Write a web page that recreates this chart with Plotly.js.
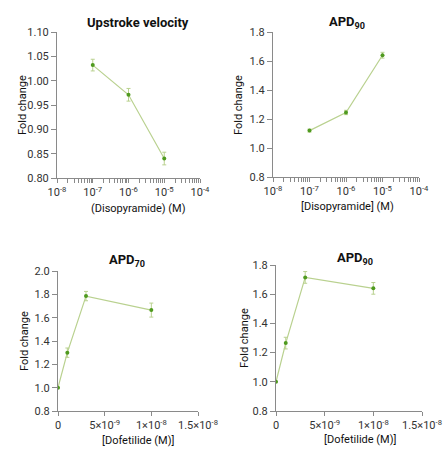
<!DOCTYPE html>
<html><head><meta charset="utf-8">
<script src="https://cdn.plot.ly/plotly-3.0.1.min.js"></script>
<style>html,body{margin:0;padding:0;background:#fff}#c{width:445px;height:457px}</style>
</head><body><div id="c"></div>
<script>
// Disopyramide data
const diso_conc = [1e-7, 1e-6, 1e-5];
const upstroke = [1.032, 0.971, 0.840];
const upstroke_err = [0.012, 0.013, 0.013];
const diso_apd90 = [1.12, 1.245, 1.64];
const diso_apd90_err = [0.01, 0.015, 0.02];
// Dofetilide data
const dofe_conc = [0, 1e-9, 3e-9, 1e-8];
const dofe_apd70 = [1.0, 1.30, 1.785, 1.665];
const dofe_apd70_err = [0.0, 0.04, 0.04, 0.06];
const dofe_apd90 = [1.0, 1.265, 1.715, 1.64];
const dofe_apd90_err = [0.0, 0.04, 0.04, 0.04];
// tick labels
const logTickVals = [1e-8, 1e-7, 1e-6, 1e-5, 1e-4];
const logTickText = ['10<sup>-8</sup>','10<sup>-7</sup>','10<sup>-6</sup>','10<sup>-5</sup>','10<sup>-4</sup>'];
const linTickVals = [0, 5e-9, 1e-8, 1.5e-8];
const linTickText = ['0','5×10<sup>-9</sup>','1×10<sup>-8</sup>','1.5×10<sup>-8</sup>'];
// unlabeled minor tick positions on the log axes (2..9 within each decade)
const logMinorVals = [];
for (let e = -8; e < -4; e++) for (let m = 2; m <= 9; m++) logMinorVals.push(m * Math.pow(10, e));

const FONT = 'Roboto, sans-serif';
const lineC = '#b9d18f', markC = '#4f9a1f', axC = '#8a8a8a', txtC = '#333';

function tr(x, y, e, xa, ya) {
  return {x: x, y: y, xaxis: xa, yaxis: ya, type: 'scatter', mode: 'lines+markers',
    line: {color: lineC, width: 1.2}, marker: {color: markC, size: 4},
    error_y: {type: 'data', array: e, visible: true, color: lineC, thickness: 1, width: 2},
    showlegend: false, hoverinfo: 'skip'};
}
const data = [
  tr(diso_conc, upstroke, upstroke_err, 'x', 'y'),
  tr(diso_conc, diso_apd90, diso_apd90_err, 'x2', 'y2'),
  tr(dofe_conc, dofe_apd70, dofe_apd70_err, 'x3', 'y3'),
  tr(dofe_conc, dofe_apd90, dofe_apd90_err, 'x4', 'y4')
];
function xax(dom, anchor, log) {
  const a = {domain: dom, anchor: anchor, showline: true, linecolor: axC, linewidth: 1,
    ticks: 'outside', ticklen: 4, tickcolor: axC, showgrid: false, zeroline: false,
    tickfont: {family: FONT, size: 11, color: txtC}, fixedrange: true};
  if (log) {
    a.type = 'log'; a.range = [-8, -4]; a.tickmode = 'array';
    a.tickvals = logTickVals.concat(logMinorVals);
    a.ticktext = logTickText.concat(logMinorVals.map(() => ''));
  } else {
    a.range = [0, 1.5e-8]; a.tickmode = 'array';
    a.tickvals = linTickVals; a.ticktext = linTickText;
  }
  return a;
}
function yax(dom, anchor, rng, dt, fmt) {
  return {domain: dom, anchor: anchor, range: rng, dtick: dt, tick0: 0.8, tickformat: fmt,
    showline: true, linecolor: axC, linewidth: 1, ticks: 'outside', ticklen: 5, tickcolor: axC,
    showgrid: false, zeroline: false, tickfont: {family: FONT, size: 11, color: txtC}, fixedrange: true};
}
function ann(text, x, y, size, bold, angle) {
  return {text: bold ? '<b>' + text + '</b>' : text, x: x, y: y, xref: 'paper', yref: 'paper',
    showarrow: false, xanchor: 'center', yanchor: 'middle', textangle: angle || 0,
    font: {family: FONT, size: size, color: '#111'}};
}
const H = 457, W = 445;
const px = v => v / W, py = v => 1 - v / H;
const layout = {
  width: W, height: H, margin: {l: 0, r: 0, t: 0, b: 0},
  paper_bgcolor: '#fff', plot_bgcolor: '#fff', showlegend: false,
  xaxis: xax([px(57), px(200)], 'y', true),
  yaxis: yax([py(178), py(32)], 'x', [0.8, 1.1], 0.05, '.2f'),
  xaxis2: xax([px(273), px(419)], 'y2', true),
  yaxis2: yax([py(177), py(32)], 'x2', [0.8, 1.8], 0.2, '.1f'),
  xaxis3: xax([px(58), px(198)], 'y3', false),
  yaxis3: yax([py(411), py(271)], 'x3', [0.8, 2.0], 0.2, '.1f'),
  xaxis4: xax([px(276), px(422)], 'y4', false),
  yaxis4: yax([py(411), py(265)], 'x4', [0.8, 1.8], 0.2, '.1f'),
  annotations: [
    ann('Upstroke velocity', px(138), py(22), 13, true),
    ann('APD<sub>90</sub>', px(347), py(22), 13, true),
    ann('APD<sub>70</sub>', px(127), py(260), 13, true),
    ann('APD<sub>90</sub>', px(355), py(258), 13, true),
    ann('(Disopyramide) (M)', px(138), py(208), 11, false),
    ann('[Disopyramide] (M)', px(347), py(206), 11, false),
    ann('[Dofetilide (M)]', px(138), py(440), 11, false),
    ann('[Dofetilide (M)]', px(360), py(439), 11, false),
    ann('Fold change', px(23), py(105), 11, false, -90),
    ann('Fold change', px(239), py(105), 11, false, -90),
    ann('Fold change', px(24), py(341), 11, false, -90),
    ann('Fold change', px(244), py(338), 11, false, -90)
  ]
};
Plotly.newPlot('c', data, layout, {staticPlot: true, displayModeBar: false});
</script></body></html>
